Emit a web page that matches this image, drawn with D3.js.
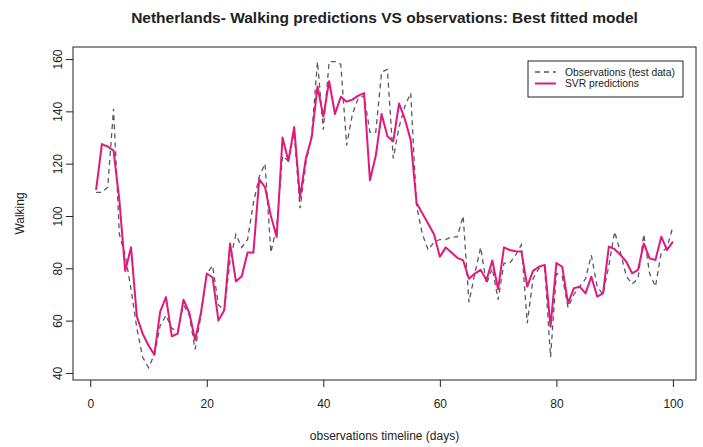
<!DOCTYPE html>
<html><head><meta charset="utf-8">
<script src="https://cdn.jsdelivr.net/npm/d3@7"></script>
<style>body{margin:0;background:#fff}svg{display:block}text{font-family:"Liberation Sans",Arial,sans-serif;fill:#222}</style>
</head><body><svg id="c" width="703" height="447"></svg>
<script>
const observations = [109,109,111,141,93,85,72,57,46,42,47,58,62,57,56,66,62,49,62,78,81,66,64,83,93,
88,91,105,115,120,86,96,123,121,132,103,120,131,159,133,159,159,158,127,139,145,146,132,132,155,
156,122,134,142,147,104,93,87,90,91,91,92,92,100,67,78,88,74,80,68,82,82,85,89,59,76,80,80,46,78,
77,65,70,73,76,85,73,70,81,94,86,77,74,76,93,78,73,86,88,96];
const predictions = [110,127.5,126.5,125,106,79,88,61.5,55,50.5,47,63.4,69,54,55,68,63,52.6,63,78,76.5,60,64,89.5,75,
77,86,86,114,111,100,92,130,121,134,107,122,130,149.5,138,151.5,139,145.6,143.7,144.5,146,147,113.7,123,139,
130.5,128.5,143,137,129,105,101,97,93,84.4,88,86,84,83,76,78,79.4,75.5,83,72,88,87,86.5,86.4,73,79,80.6,81.3,57.7,82,
80.6,66.6,72.4,73,70.4,76.8,69.2,70.4,88.3,87.3,85.1,82.5,78.1,79.4,89.5,83.8,83.2,92.1,87,90.2];
const xTicks = [0,20,40,60,80,100];
const yTicks = [40,60,80,100,120,140,160];
const seriesNames = ["Observations (test data)","SVR predictions"];
const title = "Netherlands- Walking predictions VS observations: Best fitted model";
const xLabel = "observations timeline (days)";
const yLabel = "Walking";

const svg = d3.select("#c");
const L=73,R=696,T=47,B=380;
const x = d3.scaleLinear().domain([-2.96,103.96]).range([L,R]);
const y = d3.scaleLinear().domain([37.3,164.6]).range([B,T]);

// box
svg.append("rect").attr("x",L).attr("y",T).attr("width",R-L).attr("height",B-T)
  .attr("fill","none").attr("stroke","#222").attr("stroke-width",1);

// x axis
const xa = svg.append("g").attr("transform",`translate(0,${B})`)
  .call(d3.axisBottom(x).tickValues(xTicks).tickSize(7).tickPadding(12).tickFormat(d3.format("d")));
xa.select(".domain").remove();
xa.selectAll("line").attr("stroke","#222");
xa.selectAll("text").attr("font-size",12).attr("fill","#222").attr("font-family","Liberation Sans, Arial, sans-serif");

// y axis
const ya = svg.append("g").attr("transform",`translate(${L},0)`)
  .call(d3.axisLeft(y).tickValues(yTicks).tickSize(7).tickFormat(d3.format("d")));
ya.select(".domain").remove();
ya.selectAll("line").attr("stroke","#222");
ya.selectAll("text").remove();
ya.selectAll(".tick").append("text")
  .attr("transform","translate(-11,0) rotate(-90)")
  .attr("text-anchor","middle").attr("font-size",12).attr("fill","#222")
  .attr("font-family","Liberation Sans, Arial, sans-serif")
  .text(d=>d);

// lines
const line = (arr) => d3.line().x((d,i)=>x(i+1)).y(d=>y(d))(arr);
svg.append("path").attr("d",line(observations)).attr("fill","none")
  .attr("stroke","#5a5a5a").attr("stroke-width",1.3).attr("stroke-dasharray","5,4");
svg.append("path").attr("d",line(predictions)).attr("fill","none")
  .attr("stroke","#e3187c").attr("stroke-width",2).attr("stroke-linejoin","round");

// titles
svg.append("text").attr("x",(L+R)/2).attr("y",23).attr("text-anchor","middle")
  .attr("font-size",15.5).attr("font-weight","bold").text(title);
svg.append("text").attr("x",(L+R)/2).attr("y",440).attr("text-anchor","middle")
  .attr("font-size",12).text(xLabel);
svg.append("text").attr("transform",`translate(24,${(T+B)/2}) rotate(-90)`).attr("text-anchor","middle")
  .attr("font-size",12).text(yLabel);

// legend
const lg = svg.append("g");
lg.append("rect").attr("x",528).attr("y",61).attr("width",155).attr("height",36)
  .attr("fill","#fff").attr("stroke","#222").attr("stroke-width",1);
const styles = [{c:"#5a5a5a",w:1.3,da:"5,4"},{c:"#e3187c",w:2,da:null}];
seriesNames.forEach((n,i)=>{
  const yy = 72 + i*11.5;
  lg.append("line").attr("x1",535).attr("x2",556).attr("y1",yy).attr("y2",yy)
    .attr("stroke",styles[i].c).attr("stroke-width",styles[i].w).attr("stroke-dasharray",styles[i].da);
  lg.append("text").attr("x",565).attr("y",yy+3.6).attr("font-size",10.3).text(n);
});
</script></body></html>
